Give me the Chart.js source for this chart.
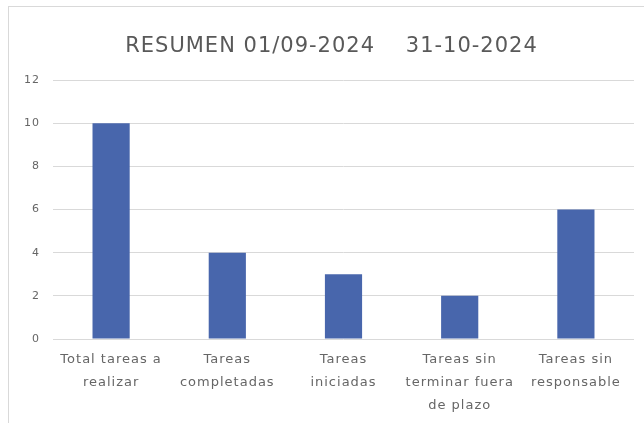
<!DOCTYPE html>
<html>
<head>
<meta charset="utf-8">
<script src="https://cdn.jsdelivr.net/npm/chart.js@4/dist/chart.umd.min.js"></script>
<style>
  html, body { margin: 0; padding: 0; background: #fff; overflow: hidden; }
  #frame { position: absolute; left: 8px; top: 6px; width: 660px; height: 420px;
           border-left: 1px solid #d9d9d9; border-top: 1px solid #d9d9d9; }
  #wrap { position: absolute; left: 0; top: 0; width: 656px; height: 417px; }
</style>
</head>
<body>
<div id="frame"><div id="wrap"><canvas id="c"></canvas></div></div>
<script>
const titleText = "RESUMEN 01/09-2024    31-10-2024";
const categories = [
  ["Total tareas a", "realizar"],
  ["Tareas", "completadas"],
  ["Tareas", "iniciadas"],
  ["Tareas sin", "terminar fuera", "de plazo"],
  ["Tareas sin", "responsable"]
];
const values = [10, 4, 3, 2, 6];
const yTicks = [0, 2, 4, 6, 8, 10, 12];

const barColor = "#4866AC";
const titleColor = "#595959";
const tickColor = "#666666";
const gridColor = "#d9d9d9";
const fontFamily = "'DejaVu Sans', sans-serif";

const spacingPlugin = {
  id: "spacing",
  beforeUpdate(chart) { chart.ctx.letterSpacing = "1px"; },
  beforeDraw(chart) { chart.ctx.letterSpacing = "1px"; }
};

new Chart(document.getElementById("c"), {
  type: "bar",
  data: {
    labels: categories,
    datasets: [{ data: values, backgroundColor: barColor, borderWidth: 0,
                 categoryPercentage: 1, barPercentage: 0.32 }]
  },
  plugins: [spacingPlugin],
  options: {
    responsive: true,
    maintainAspectRatio: false,
    animation: false,
    layout: { padding: { left: 0, right: 11, top: 0, bottom: 0 } },
    plugins: {
      legend: { display: false },
      tooltip: { enabled: false },
      title: {
        display: true,
        text: titleText,
        color: titleColor,
        font: { family: fontFamily, size: 21, weight: "normal" },
        padding: { top: 27, bottom: 20.8 }
      }
    },
    scales: {
      x: {
        grid: { display: false, drawTicks: false },
        border: { display: false },
        ticks: {
          color: tickColor,
          font: { family: fontFamily, size: 13, lineHeight: 1.77 },
          maxRotation: 0, minRotation: 0, autoSkip: false, padding: 9
        },
        afterFit: s => { s.height = 85; }
      },
      y: {
        min: 0, max: 12,
        afterBuildTicks: s => { s.ticks = yTicks.map(v => ({ value: v })); },
        grid: { color: gridColor, lineWidth: 1, drawTicks: false },
        border: { display: false },
        ticks: {
          color: tickColor,
          font: { family: fontFamily, size: 11 },
          padding: 13
        },
        afterFit: s => { s.width = 44; }
      },
      yRight: {
        position: "right",
        min: 0, max: 12,
        grid: { display: false, drawTicks: false },
        border: { display: false },
        ticks: { display: false },
        afterFit: s => { s.width = 20; }
      }
    }
  }
});
</script>
</body>
</html>
